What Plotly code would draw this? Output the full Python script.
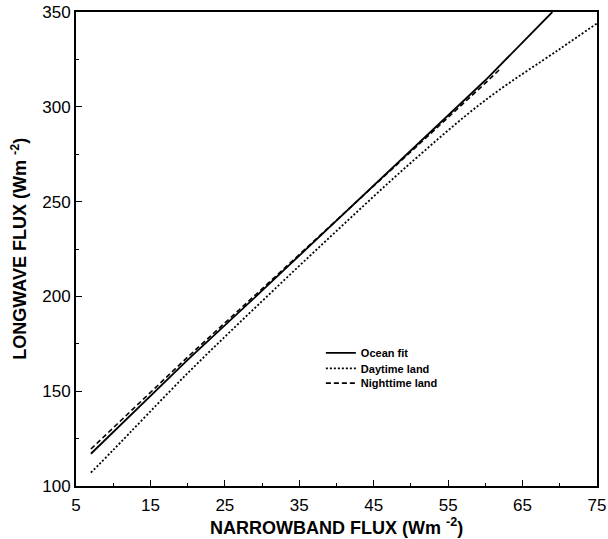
import plotly.graph_objects as go

# Narrowband-to-longwave flux conversion curves (W m^-2)
ocean_x = [7, 20, 30, 40, 50, 60, 69]
ocean_y = [117, 166.5, 203, 240, 277, 314, 350]

day_x = [7, 10, 20, 30, 40, 50, 60, 70, 75]
day_y = [107, 119, 159.5, 197.5, 234.5, 270.5, 303.5, 330.5, 344]

night_x = [7, 20, 30, 40, 50, 60, 62]
night_y = [119.5, 168, 204, 240, 276.5, 312.5, 320]

x_ticks = [5, 15, 25, 35, 45, 55, 65, 75]
y_ticks = [100, 150, 200, 250, 300, 350]

FONT = "Liberation Sans, Arial, Helvetica, sans-serif"
LEG_FONT = dict(family=FONT, size=11, color="black", weight="bold")

fig = go.Figure()
fig.add_trace(go.Scatter(x=ocean_x, y=ocean_y, mode="lines", name="Ocean fit",
                         line=dict(color="black", width=1.8), legend="legend"))
fig.add_trace(go.Scatter(x=day_x, y=day_y, mode="lines", name="Daytime land",
                         line=dict(color="black", width=1.8, dash="2px,2px"),
                         line_shape="spline", legend="legend2"))
fig.add_trace(go.Scatter(x=night_x, y=night_y, mode="lines", name="Nighttime land",
                         line=dict(color="black", width=1.6, dash="5px,3px"),
                         legend="legend3"))

axis_common = dict(
    showgrid=False, zeroline=False, automargin=False,
    showline=True, linecolor="black", linewidth=2, mirror=True,
    ticks="inside", ticklen=6, tickwidth=1.2, tickcolor="black",
    tickfont=dict(family=FONT, size=17, color="black"),
)

fig.update_xaxes(range=[5, 75], tickvals=x_ticks, ticklabelstandoff=3,
                 minor=dict(dtick=5, tick0=5, ticks="inside", ticklen=3, tickcolor="black"),
                 **axis_common)
fig.update_yaxes(range=[100, 350], tickvals=y_ticks,
                 minor=dict(dtick=25, tick0=100, ticks="inside", ticklen=3, tickcolor="black"),
                 **axis_common)

legend_common = dict(x=0.47, xanchor="left", yanchor="middle",
                     bgcolor="rgba(0,0,0,0)", borderwidth=0, font=LEG_FONT)

fig.update_layout(
    width=608, height=539,
    margin=dict(l=76, r=11, t=12, b=53),
    paper_bgcolor="white", plot_bgcolor="white",
    showlegend=True,
    legend=dict(y=0.281, **legend_common),
    legend2=dict(y=0.248, **legend_common),
    legend3=dict(y=0.217, **legend_common),
    annotations=[
        dict(text="NARROWBAND FLUX (Wm <sup>-2</sup>)", xref="paper", yref="paper",
             x=0.5, y=-0.086, xanchor="center", yanchor="middle", showarrow=False,
             font=dict(family=FONT, size=18, color="black", weight="bold")),
        dict(text="LONGWAVE FLUX (Wm <sup>-2</sup>)", xref="paper", yref="paper",
             x=-0.11, y=0.5, xanchor="center", yanchor="middle", textangle=-90,
             showarrow=False,
             font=dict(family=FONT, size=18, color="black", weight="bold")),
    ],
)

fig.write_html("out.html")
